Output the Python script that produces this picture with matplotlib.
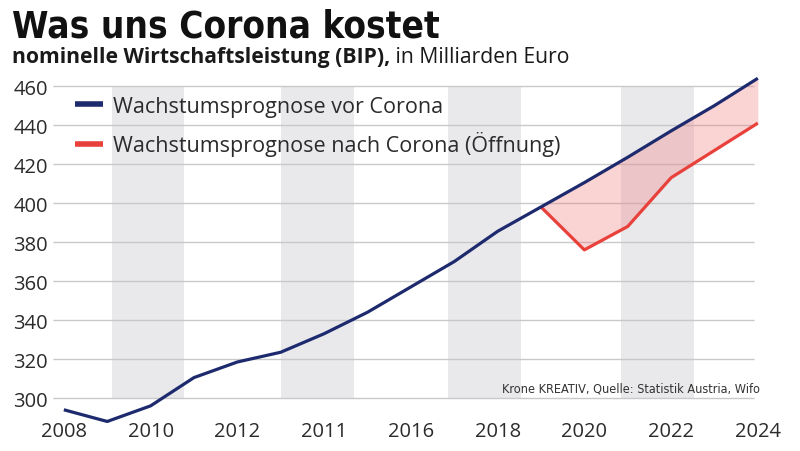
import matplotlib
matplotlib.use('Agg')
import matplotlib.pyplot as plt
from matplotlib import font_manager

# nominal GDP Austria, bn EUR
years = list(range(2008, 2025))
bip_vor_corona = [294, 288, 296, 310.5, 318.5, 323.5, 333, 344, 357, 370,
                  385.5, 398, 410.5, 423.5, 437, 450, 464]
years_nach = list(range(2019, 2025))
bip_nach_corona = [398, 376, 388, 413, 427, 441]

tick_years = list(range(2008, 2025, 2))
tick_labels = ['2008', '2010', '2012', '2011', '2016', '2018', '2020', '2022', '2024']
y_ticks = list(range(300, 461, 20))

label_vor = 'Wachstumsprognose vor Corona'
label_nach = 'Wachstumsprognose nach Corona (Öffnung)'
title = 'Was uns Corona kostet'
sub_bold = 'nominelle Wirtschaftsleistung (BIP),'
sub_reg = ' in Milliarden Euro'
source = 'Krone KREATIV, Quelle: Statistik Austria, Wifo'

BLUE = '#1e2a6e'
RED = '#e8413b'
TEXT = '#2b2b2b'


def narrow_font(bold):
    ttf = font_manager.fontManager.ttflist
    for f in ttf:
        if f.name == 'Liberation Sans Narrow' and (f.weight == 700) == bold:
            return font_manager.FontProperties(fname=f.fname)
    for f in ttf:
        base = f.fname.split('/')[-1]
        if base == ('DejaVuSansCondensed-Bold.ttf' if bold else 'DejaVuSansCondensed.ttf'):
            return font_manager.FontProperties(fname=f.fname)
    return font_manager.FontProperties(family='Roboto', weight='black' if bold else 'normal')


def fit_width(fig, txt, target_px):
    # scale font size so the text is target_px wide
    r = fig.canvas.get_renderer()
    w = txt.get_window_extent(r).width
    txt.set_fontsize(txt.get_fontsize() * target_px / w)


fig = plt.figure(figsize=(8, 4.52), dpi=100)
W, H = 800, 452
ax = fig.add_axes([53 / W, 1 - 425 / H, 707 / W, 350 / H])
ax.set_xlim(2007.75, 2024.05)
ax.set_ylim(286.7, 466.2)

# grey columns
for x0 in [2009.1, 2013.0, 2016.85, 2020.85]:
    ax.fill_between([x0, x0 + 1.68], 300, 460, color='#e9e9ec', lw=0, zorder=0)

ax.hlines(y_ticks, 2007.75, 2023.92, color='#c9c9c9', lw=1, zorder=1)

vor_tail = bip_vor_corona[years.index(2019):]
ax.fill_between(years_nach, bip_nach_corona, vor_tail, color='#f07c7c',
                alpha=0.33, lw=0, zorder=2)
ax.plot(years, bip_vor_corona, color=BLUE, lw=2.3, zorder=4, label=label_vor,
        solid_capstyle='butt', clip_on=False)
ax.plot(years_nach, bip_nach_corona, color=RED, lw=2.3, zorder=3, label=label_nach,
        solid_capstyle='butt')

for s in ax.spines.values():
    s.set_visible(False)
ax.set_xticks(tick_years)
ax.set_xticklabels(tick_labels)
ax.set_yticks(y_ticks)
ax.tick_params(length=0, labelsize=14.5, labelcolor=TEXT)
ax.tick_params(axis='y', pad=3.5)
ax.tick_params(axis='x', pad=-2)
for t in ax.get_xticklabels() + ax.get_yticklabels():
    t.set_family('Open Sans')

leg = ax.legend(loc='upper left', bbox_to_anchor=(75 / W, 1 - 97 / H),
                bbox_transform=fig.transFigure, frameon=False, borderpad=0,
                borderaxespad=0, handlelength=1.3, handletextpad=0.45,
                labelspacing=0.66, prop={'family': 'Open Sans', 'size': 15.5})
for t in leg.get_texts():
    t.set_color(TEXT)
for h in leg.get_lines():
    h.set_linewidth(4)

t_title = fig.text(12 / W, 1 - 9 / H, title, fontproperties=narrow_font(True),
                   fontsize=32, color='#111111', va='top')
t_sb = fig.text(12 / W, 1 - 47 / H, sub_bold, family='Open Sans', weight='bold',
                fontsize=15, color='#1a1a1a', va='top')
t_src = fig.text(760 / W, 1 - 389 / H, source, fontproperties=narrow_font(False),
                 fontsize=9, color='#333333', ha='right', va='center')
fit_width(fig, t_title, 428)
fit_width(fig, t_sb, 378)
fit_width(fig, t_src, 258)

r = fig.canvas.get_renderer()
x_end = t_sb.get_window_extent(r).x1
fig.text(x_end / W, 1 - 47 / H, sub_reg, family='Open Sans', fontsize=t_sb.get_fontsize(),
         color='#1a1a1a', va='top')

fig.savefig('out.png', dpi=100)
